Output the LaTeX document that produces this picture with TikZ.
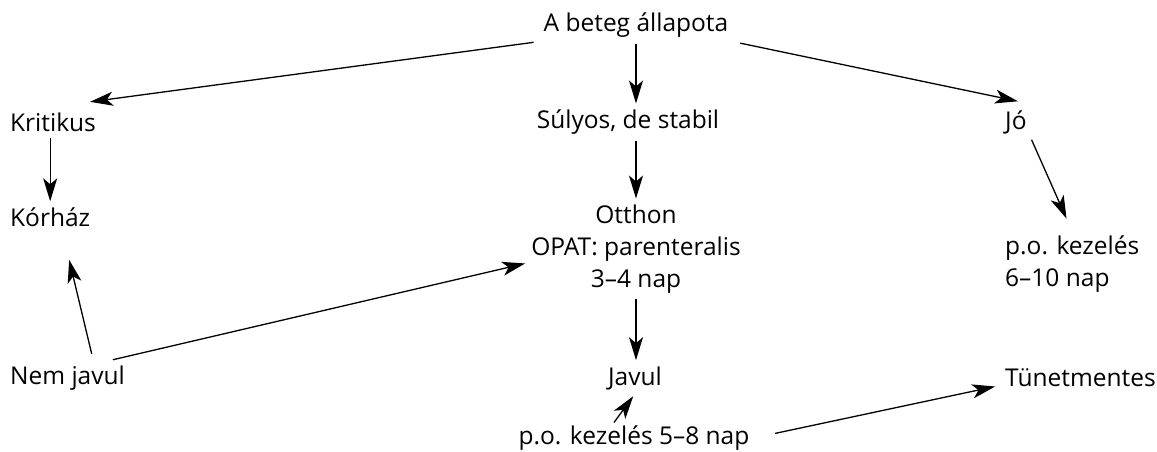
\documentclass[tikz,border=0pt]{standalone}
\usepackage{fontspec}
\setmainfont{Open Sans}
\usetikzlibrary{arrows.meta,positioning}

\begin{document}
\begin{tikzpicture}[
    x=1pt, y=-1pt,
    lbl/.style={inner sep=4pt, font=\fontsize{24.5}{32}\selectfont},
    lft/.style={lbl, anchor=west, align=left},
    ctr/.style={lbl, align=center},
    arr/.style={-{Stealth[length=23pt, width=14pt, inset=6pt]}, line width=1.3pt}
]
    \useasboundingbox (0,0) rectangle (1157,452);

    % top row
    \node[ctr] (top) at (636,25) {A beteg állapota};
    \node[lft] (krit) at (6,122) {Kritikus};
    \node[ctr] (sul) at (628,122) {Súlyos, de stabil};
    \node[lft] (jo) at (1001,122) {Jó};

    % middle row
    \node[lft] (kor) at (6,217) {Kórház};
    \node[ctr] (oth) at (636,249) {Otthon\\OPAT: parenteralis\\3--4 nap};
    \node[lft] (po1) at (1001,264) {p.o. kezelés\\6--10 nap};

    % bottom row
    \node[lft] (nem) at (6,378) {Nem javul};
    \node[ctr] (jav) at (635,378) {Javul};
    \node[lft] (tun) at (1001,378) {Tünetmentes};
    \node[ctr] (po2) at (634,438) {p.o. kezelés 5--8 nap};

    \draw[arr, shorten <=6pt, shorten >=4pt] (top.south west) -- ([xshift=-14pt, yshift=6pt]krit.north east);
    \draw[arr, shorten <=2pt, shorten >=2pt] (top.south -| oth) -- (sul.north -| oth);
    \draw[arr, shorten <=8pt, shorten >=4pt] (top.south east) -- ([xshift=6pt, yshift=4pt]jo.north);
    \draw[arr, shorten <=2pt, shorten >=2pt] (krit.south -| kor) -- (kor.north);
    \draw[arr, shorten <=2pt, shorten >=2pt] (sul.south -| oth) -- (oth.north);
    \draw[arr, shorten <=2pt, shorten >=14pt] (jo.south east) -- (po1.north);
    \draw[arr, shorten <=8pt, shorten >=30pt] ([xshift=26pt]nem.north) -- ([xshift=12pt]kor.south);
    \draw[arr, shorten <=8pt, shorten >=2pt] ([xshift=-24pt]nem.north east) -- ([yshift=-14pt]oth.west);
    \draw[arr, shorten <=2pt, shorten >=2pt] (oth.south) -- (jav.north -| oth);
    \draw[arr, shorten >=3pt] ([xshift=-20pt, yshift=-1pt]po2.north) -- (jav.south);
    \draw[arr, shorten <=22pt, shorten >=6pt] (po2.east) -- ([yshift=6pt]tun.south west);
\end{tikzpicture}
\end{document}
